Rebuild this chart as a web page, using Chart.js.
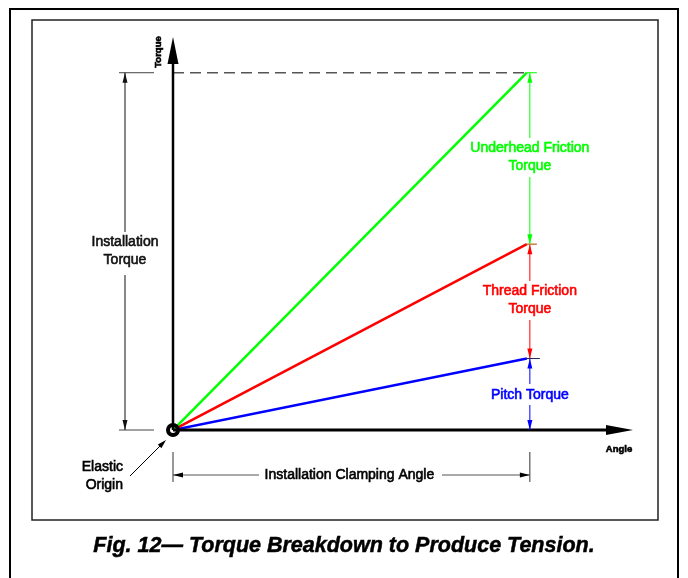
<!DOCTYPE html>
<html>
<head>
<meta charset="utf-8">
<title>Torque Breakdown to Produce Tension</title>
<script src="https://cdn.jsdelivr.net/npm/chart.js"></script>
<style>
  html, body { margin: 0; padding: 0; background: #fff; }
  canvas { display: block; }
</style>
</head>
<body>
<canvas id="torqueChart" width="688" height="578"></canvas>
<script>
// values (angle and torque in relative units)
const angle = [0, 1];
const pitchTorque = [0, 0.2];
const threadTorque = [0, 0.52];
const underheadTorque = [0, 1];
const installTorque = [1, 1];

const axisNames = ['Angle', 'Torque'];
const caption = 'Fig. 12\u2014 Torque Breakdown to Produce Tension.';

const green = '#00ff00';
const red = '#ff0000';
const blue = '#0000ff';
const font = "'Liberation Sans', Arial, sans-serif";

function pts(ys) {
    return angle.map((a, i) => ({ x: a, y: ys[i] }));
}

function arrow(ctx, x, y, dx, dy, len, hw, color) {
    // tip at (x,y), pointing along (dx,dy)
    ctx.save();
    ctx.fillStyle = color;
    ctx.beginPath();
    ctx.moveTo(x, y);
    ctx.lineTo(x - dx * len - dy * hw, y - dy * len + dx * hw);
    ctx.lineTo(x - dx * len + dy * hw, y - dy * len - dx * hw);
    ctx.closePath();
    ctx.fill();
    ctx.restore();
}

function line(ctx, x1, y1, x2, y2, color, w) {
    ctx.save();
    ctx.strokeStyle = color;
    ctx.lineWidth = w;
    ctx.beginPath();
    ctx.moveTo(x1, y1);
    ctx.lineTo(x2, y2);
    ctx.stroke();
    ctx.restore();
}

// the scanned figure has heavy text, so give it a thin outline
function text(ctx, str, x, y, color, f, align) {
    ctx.save();
    ctx.fillStyle = color;
    ctx.strokeStyle = color;
    ctx.lineWidth = 0.6;
    ctx.font = f;
    ctx.textAlign = align || 'center';
    ctx.textBaseline = 'middle';
    ctx.fillText(str, x, y);
    ctx.strokeText(str, x, y);
    ctx.restore();
}

// vertical dimension with a gap for the label
function vDim(ctx, xp, yTop, yBot, color, labels, cy, gapTop, gapBot) {
    line(ctx, xp, yTop, xp, gapTop, color, 1);
    line(ctx, xp, gapBot, xp, yBot, color, 1);
    arrow(ctx, xp, yTop, 0, -1, 10, 2.5, color);
    arrow(ctx, xp, yBot, 0, 1, 10, 2.5, color);
    labels.forEach((s, i) => {
        text(ctx, s, xp, cy + (i - (labels.length - 1) / 2) * 18, color, '14px ' + font);
    });
}

const drawingPlugin = {
    id: 'drawing',
    beforeDraw(chart) {
        const ctx = chart.ctx;
        ctx.save();
        ctx.fillStyle = '#fff';
        ctx.fillRect(0, 0, chart.width, chart.height);
        // outer frame (open at the bottom)
        ctx.strokeStyle = '#000';
        ctx.lineWidth = 2;
        ctx.beginPath();
        ctx.moveTo(10, 578);
        ctx.lineTo(10, 9);
        ctx.lineTo(678, 9);
        ctx.lineTo(678, 578);
        ctx.stroke();
        // inner frame
        ctx.strokeStyle = '#222';
        ctx.lineWidth = 1.5;
        ctx.strokeRect(32, 20, 626, 500);
        ctx.restore();
    },
    afterDatasetsDraw(chart) {
        const ctx = chart.ctx;
        const xs = chart.scales.x, ys = chart.scales.y;
        const x0 = xs.getPixelForValue(0);
        const x1 = xs.getPixelForValue(angle[1]);
        const y0 = ys.getPixelForValue(0);
        const yG = ys.getPixelForValue(underheadTorque[1]);
        const yR = ys.getPixelForValue(threadTorque[1]);
        const yB = ys.getPixelForValue(pitchTorque[1]);
        const xTip = chart.chartArea.right;
        const yTip = chart.chartArea.top;

        // axes
        line(ctx, x0, y0, x0, yTip + 24, '#000', 2.5);
        arrow(ctx, x0, yTip, 0, -1, 27, 5.5, '#000');
        line(ctx, x0, y0, xTip - 24, y0, '#000', 3);
        arrow(ctx, xTip, y0, 1, 0, 27, 5, '#000');
        ctx.save();
        ctx.translate(x0 - 15, yTip + 15);
        ctx.rotate(-Math.PI / 2);
        text(ctx, axisNames[1], 0, 0, '#000', 'bold 9.5px ' + font);
        ctx.restore();
        text(ctx, axisNames[0], xTip - 14, y0 + 19, '#000', 'bold 9.5px ' + font);

        // installation torque dimension (left)
        const xd = x0 - 48;
        line(ctx, xd - 6, yG, x0 - 19, yG, '#444', 1);
        line(ctx, xd - 6, y0, x0 - 19, y0, '#444', 1);
        vDim(ctx, xd, yG, y0, '#111', ['Installation', 'Torque'], 251, 232, 275);

        // breakdown dimensions (right)
        const xr = x1 + 3;
        vDim(ctx, xr, yG, yR, green, ['Underhead Friction', 'Torque'], 157, 138, 177);
        vDim(ctx, xr, yR, yB, red, ['Thread Friction', 'Torque'], 300, 281, 320);
        vDim(ctx, xr, yB, y0, blue, ['Pitch Torque'], 395, 384, 405);
        line(ctx, x1, yG, x1 + 10, yG, green, 1);
        line(ctx, x1, yR, x1 + 10, yR, '#c08040', 1.5);
        line(ctx, x1, yB, x1 + 13, yB, '#202060', 1);

        // clamping angle dimension (bottom)
        const yd = y0 + 45;
        line(ctx, x0, y0 + 22, x0, y0 + 52, '#333', 1);
        line(ctx, xr, y0 + 22, xr, y0 + 52, '#333', 1);
        line(ctx, x0, yd, 259, yd, '#555', 1);
        line(ctx, 442, yd, xr, yd, '#555', 1);
        arrow(ctx, x0, yd, -1, 0, 10, 2.5, '#000');
        arrow(ctx, xr, yd, 1, 0, 10, 2.5, '#000');
        text(ctx, 'Installation Clamping Angle', (x0 + xr) / 2 - 2, yd, '#000', '14px ' + font);

        // elastic origin
        ctx.save();
        ctx.strokeStyle = '#000';
        ctx.lineWidth = 4;
        ctx.beginPath();
        ctx.arc(x0, y0, 5, 0, Math.PI * 2);
        ctx.stroke();
        ctx.restore();
        line(ctx, 130, 476, 162, 444, '#000', 1);
        arrow(ctx, 166, 440, 0.7071, -0.7071, 9, 2.5, '#000');
        text(ctx, 'Elastic', 123, 467, '#000', '14px ' + font, 'right');
        text(ctx, 'Origin', 123, 485, '#000', '14px ' + font, 'right');

        // caption
        ctx.save();
        ctx.fillStyle = '#000';
        ctx.strokeStyle = '#000';
        ctx.lineWidth = 0.5;
        ctx.font = 'italic bold 21.5px ' + font;
        ctx.textAlign = 'center';
        ctx.textBaseline = 'alphabetic';
        ctx.fillText(caption, 344, 552);
        ctx.strokeText(caption, 344, 552);
        ctx.restore();
    }
};

const ctx = document.getElementById('torqueChart').getContext('2d');
const chart = new Chart(ctx, {
    type: 'line',
    data: {
        datasets: [{
            label: 'Installation Torque',
            data: pts(installTorque),
            borderColor: '#555',
            borderWidth: 1.5,
            borderDash: [11, 6],
            pointRadius: 0
        }, {
            label: 'Underhead Friction Torque',
            data: pts(underheadTorque),
            borderColor: green,
            borderWidth: 2.5,
            pointRadius: 0
        }, {
            label: 'Thread Friction Torque',
            data: pts(threadTorque),
            borderColor: red,
            borderWidth: 2.5,
            pointRadius: 0
        }, {
            label: 'Pitch Torque',
            data: pts(pitchTorque),
            borderColor: blue,
            borderWidth: 2.5,
            pointRadius: 0
        }]
    },
    options: {
        responsive: false,
        animation: false,
        layout: {
            padding: { left: 173, right: 55, top: 37, bottom: 148 }
        },
        scales: {
            x: { type: 'linear', min: 0, max: 1.3, display: false },
            y: { type: 'linear', min: 0, max: 1.1, display: false }
        },
        plugins: {
            legend: { display: false },
            tooltip: { enabled: false }
        }
    },
    plugins: [drawingPlugin]
});
</script>
</body>
</html>
